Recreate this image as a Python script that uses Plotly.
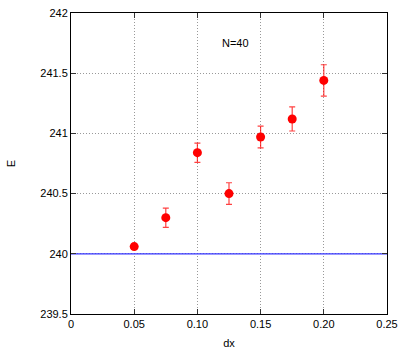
import plotly.graph_objects as go

dx = [0.05, 0.075, 0.10, 0.125, 0.15, 0.175, 0.20]
E = [240.06, 240.30, 240.84, 240.50, 240.97, 241.12, 241.44]
E_err = [0.02, 0.08, 0.08, 0.09, 0.09, 0.10, 0.13]
ref_x = [0, 0.25]
ref_E = [240, 240]
x_ticks = [0, 0.05, 0.10, 0.15, 0.20, 0.25]
x_labels = ["0", "0.05", "0.10", "0.15", "0.20", "0.25"]
y_ticks = [239.5, 240, 240.5, 241, 241.5, 242]
y_labels = ["239.5", "240", "240.5", "241", "241.5", "242"]

fig = go.Figure()
fig.add_trace(go.Scatter(x=ref_x, y=ref_E, mode="lines",
                         line=dict(color="#3333ff", width=1.2), showlegend=False))
fig.add_trace(go.Scatter(x=dx, y=E, mode="markers",
                         marker=dict(color="#ff0000", size=9),
                         error_y=dict(type="data", array=E_err, color="rgba(255,0,0,0.75)",
                                      thickness=1.2, width=3),
                         showlegend=False))
fig.add_annotation(x=0.1305, y=241.75, text="N=40", showarrow=False,
                   font=dict(size=11, color="black"))

axis_common = dict(showline=True, linecolor="black", linewidth=1, mirror="ticks",
                   ticks="inside", ticklen=5, tickcolor="#333333", automargin=False,
                   showgrid=True, gridcolor="#999999", griddash="1px,2px", gridwidth=1,
                   zeroline=False, tickfont=dict(size=11, color="black"))
fig.update_xaxes(range=[0, 0.25], tickvals=x_ticks, ticktext=x_labels,
                 title=dict(text="dx", font=dict(size=11, color="black"), standoff=10),
                 **axis_common)
fig.update_yaxes(range=[239.5, 242], tickvals=y_ticks, ticktext=y_labels,
                 title=dict(text="E", font=dict(size=11, color="black"), standoff=22),
                 **axis_common)
fig.update_layout(width=407, height=349, margin=dict(l=71, r=20, t=13, b=35),
                  plot_bgcolor="white", paper_bgcolor="white",
                  font=dict(family="Liberation Sans, Arial, sans-serif"))
post = (
    "var s=document.body.style;s.margin='0';s.padding='0';s.overflow='hidden';"
    "var h=document.documentElement.style;h.overflow='hidden';"
)
fig.write_html("out.html", config={"displayModeBar": False}, post_script=post)
